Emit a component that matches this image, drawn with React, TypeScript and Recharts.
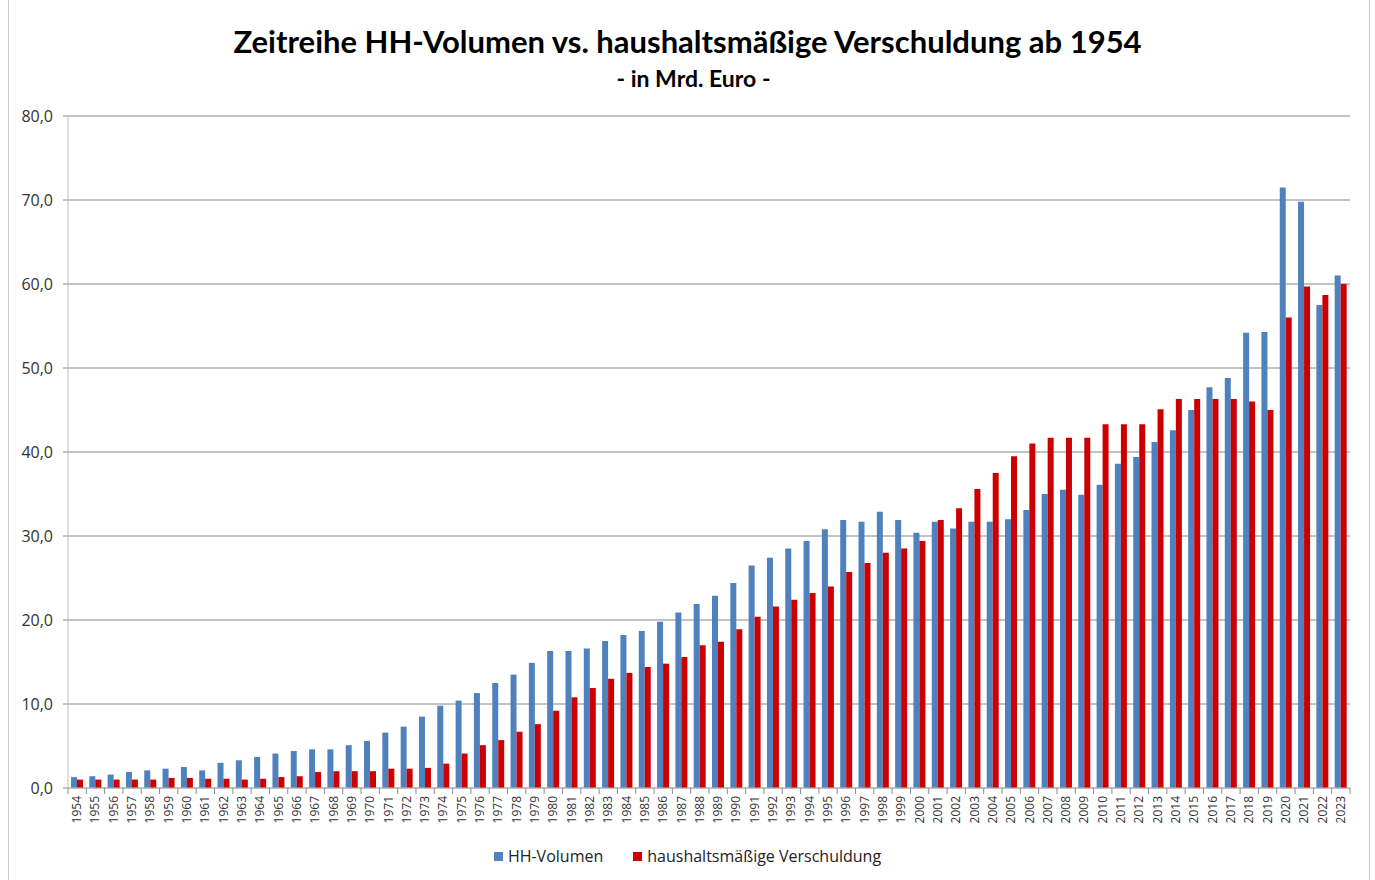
import React from "react";
import { BarChart, Bar, XAxis, YAxis, CartesianGrid } from "recharts";

const years = [
  "1954", "1955", "1956", "1957", "1958", "1959", "1960", "1961", "1962", "1963",
  "1964", "1965", "1966", "1967", "1968", "1969", "1970", "1971", "1972", "1973",
  "1974", "1975", "1976", "1977", "1978", "1979", "1980", "1981", "1982", "1983",
  "1984", "1985", "1986", "1987", "1988", "1989", "1990", "1991", "1992", "1993",
  "1994", "1995", "1996", "1997", "1998", "1999", "2000", "2001", "2002", "2003",
  "2004", "2005", "2006", "2007", "2008", "2009", "2010", "2011", "2012", "2013",
  "2014", "2015", "2016", "2017", "2018", "2019", "2020", "2021", "2022", "2023",
];

const hhVolumen = [
  1.3, 1.4, 1.6, 1.9, 2.1, 2.3, 2.5, 2.1, 3.0, 3.3,
  3.7, 4.1, 4.4, 4.6, 4.6, 5.1, 5.6, 6.6, 7.3, 8.5,
  9.8, 10.4, 11.3, 12.5, 13.5, 14.9, 16.3, 16.3, 16.6, 17.5,
  18.2, 18.7, 19.8, 20.9, 21.9, 22.9, 24.4, 26.5, 27.4, 28.5,
  29.4, 30.8, 31.9, 31.7, 32.9, 31.9, 30.4, 31.7, 30.9, 31.7,
  31.7, 32.0, 33.1, 35.0, 35.5, 34.9, 36.1, 38.6, 39.4, 41.2,
  42.6, 45.0, 47.7, 48.8, 54.2, 54.3, 71.5, 69.8, 57.5, 61.0,
];

const verschuldung = [
  1.0, 1.0, 1.0, 1.0, 1.0, 1.2, 1.2, 1.1, 1.1, 1.0,
  1.1, 1.3, 1.4, 1.9, 2.0, 2.0, 2.0, 2.3, 2.3, 2.4,
  2.9, 4.1, 5.1, 5.7, 6.7, 7.6, 9.2, 10.8, 11.9, 13.0,
  13.7, 14.4, 14.8, 15.6, 17.0, 17.4, 18.9, 20.4, 21.6, 22.4,
  23.2, 24.0, 25.7, 26.8, 28.0, 28.5, 29.4, 31.9, 33.3, 35.6,
  37.5, 39.5, 41.0, 41.7, 41.7, 41.7, 43.3, 43.3, 43.3, 45.1,
  46.3, 46.3, 46.3, 46.3, 46.0, 45.0, 56.0, 59.7, 58.7, 60.0,
];

const yTicks = [0, 10, 20, 30, 40, 50, 60, 70, 80];
const seriesNames = ["HH-Volumen", "haushaltsmäßige Verschuldung"];
const seriesColors = ["#4F81BD", "#CC0000"];

const data = years.map((y, i) => ({ year: y, hh: hhVolumen[i], vs: verschuldung[i] }));

const W = 1375;
const H = 880;
const PLOT_LEFT = 68;
const PLOT_RIGHT = 1350;
const BAND = (PLOT_RIGHT - PLOT_LEFT) / years.length;
const FONT = "'Open Sans', 'Liberation Sans', sans-serif";
const TITLE_FONT = "Lato, 'Open Sans', sans-serif";

function YearTick({ x, y, payload, index }: any) {
  const half = BAND / 2;
  return (
    <g>
      {index === 0 && <line x1={x - half} y1={y - 8} x2={x - half} y2={y - 2} stroke="#8c8c8c" />}
      <line x1={x + half} y1={y - 8} x2={x + half} y2={y - 2} stroke="#8c8c8c" />
      <text
        transform={`translate(${x + 4},${y}) rotate(-90)`}
        textAnchor="end"
        fontSize={12}
        fill="#333"
        fontFamily={FONT}
      >
        {payload.value}
      </text>
    </g>
  );
}

function ValueTick({ x, y, payload }: any) {
  return (
    <text x={x - 8} y={y + 6} textAnchor="end" fontSize={16} fill="#333" fontFamily={FONT}>
      {payload.value.toFixed(1).replace(".", ",")}
    </text>
  );
}

export default function App() {
  return (
    <div style={{ position: "absolute", left: 0, top: 0, width: W, height: H, background: "#fff", fontFamily: FONT }}>
      <div style={{ position: "absolute", left: 8, top: 0, width: 1, height: H, background: "#c8c8c8" }} />
      <div style={{ position: "absolute", left: 1369, top: 0, width: 1, height: H, background: "#c8c8c8" }} />
      <div style={{ position: "absolute", left: 0, top: 22, width: W, textAlign: "center", fontSize: 31, fontWeight: 700, color: "#000", fontFamily: TITLE_FONT }}>
        Zeitreihe HH-Volumen vs. haushaltsmäßige Verschuldung ab 1954
      </div>
      <div style={{ position: "absolute", left: 6, top: 64, width: W, textAlign: "center", fontSize: 23, fontWeight: 700, color: "#000", fontFamily: TITLE_FONT }}>
        - in Mrd. Euro -
      </div>
      <BarChart
        width={W}
        height={H}
        data={data}
        margin={{ top: 116, right: W - PLOT_RIGHT, bottom: 42, left: 8 }}
        barGap={0}
        barSize={6}
      >
        <CartesianGrid vertical={false} stroke="#868686" strokeWidth={1} />
        <XAxis
          dataKey="year"
          interval={0}
          height={50}
          tick={<YearTick />}
          tickLine={false}
          axisLine={{ stroke: "#bfbfbf" }}
        />
        <YAxis
          domain={[0, 80]}
          ticks={yTicks}
          width={60}
          tickSize={5}
          tickLine={{ stroke: "#8c8c8c" }}
          axisLine={{ stroke: "#bfbfbf" }}
          tick={<ValueTick />}
        />
        <Bar dataKey="hh" name={seriesNames[0]} fill={seriesColors[0]} isAnimationActive={false} />
        <Bar dataKey="vs" name={seriesNames[1]} fill={seriesColors[1]} isAnimationActive={false} />
      </BarChart>
      <div style={{ position: "absolute", left: 0, top: 845, width: W, display: "flex", justifyContent: "center", gap: 30, fontSize: 16, color: "#222", paddingLeft: 0 }}>
        {seriesNames.map((n, i) => (
          <div key={n} style={{ display: "flex", alignItems: "center", gap: 5 }}>
            <span style={{ width: 9, height: 9, background: seriesColors[i], display: "inline-block" }} />
            <span>{n}</span>
          </div>
        ))}
      </div>
    </div>
  );
}
